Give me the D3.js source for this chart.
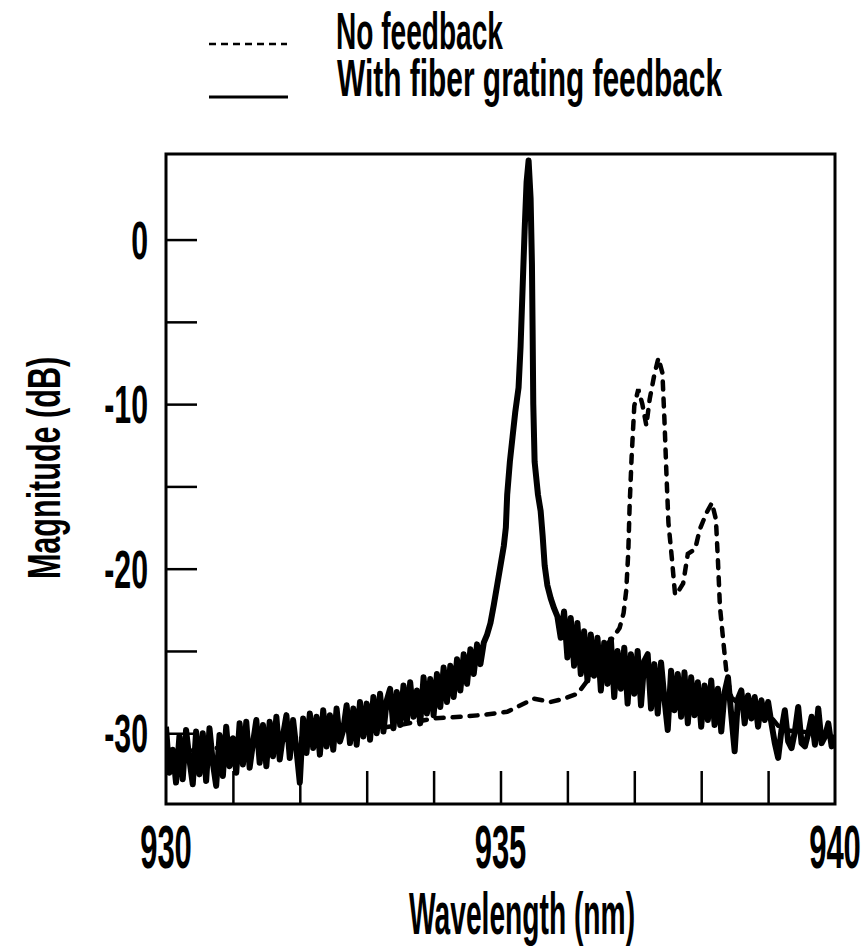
<!DOCTYPE html>
<html>
<head>
<meta charset="utf-8">
<script src="https://cdn.jsdelivr.net/npm/d3@7/dist/d3.min.js"></script>
<style>
  body { margin: 0; background: #fff; }
  text { font-family: "Liberation Sans", Arial, sans-serif; font-weight: bold; fill: #000; }
</style>
</head>
<body>
<svg id="chart" width="867" height="950"></svg>
<script>
// series labels
var seriesNames = ['No feedback', 'With fiber grating feedback'];

// tick values
var xTicks = [931, 932, 933, 934, 935, 936, 937, 938, 939];
var xLabels = [930, 935, 940];
var yTicks = [0, -5, -10, -15, -20, -25, -30];
var yLabels = [0, -10, -20, -30];

// no feedback (dashed) - wavelength nm, magnitude dB
var noFbWl = [930.0, 931.0, 932.0, 933.0, 933.5, 934.0, 934.4, 934.7, 935.1, 935.5, 935.75, 935.95, 936.15, 936.3,
    936.45, 936.57, 936.68, 936.78, 936.84, 936.88, 936.91, 936.93, 936.96, 937.0, 937.06, 937.12, 937.18, 937.23,
    937.3, 937.36, 937.42, 937.45, 937.48, 937.51, 937.56, 937.61, 937.67, 937.73, 937.8, 937.91, 937.98, 938.08,
    938.16, 938.22, 938.25, 938.28, 938.33, 938.38, 938.45, 938.6, 939.0, 939.2, 939.5, 940.0];
var noFbMag = [-31.2, -30.8, -30.3, -29.8, -29.5, -29.1, -29.0, -28.9, -28.7, -27.9, -28.1, -27.9, -27.6, -26.8,
    -25.7, -24.7, -24.2, -23.6, -22.7, -21.3, -19.0, -16.2, -13.2, -10.1, -9.1, -10.0, -11.3, -9.7,
    -8.2, -7.2, -8.1, -10.9, -14.2, -17.2, -19.3, -21.6, -21.3, -20.9, -19.1, -18.8, -17.6, -16.6,
    -16.0, -17.0, -19.5, -22.3, -24.4, -26.4, -27.8, -28.4, -28.8, -29.8, -29.9, -30.1];

// with fiber grating feedback (solid)
var fbWl = [930.00, 930.05, 930.10, 930.15, 930.20, 930.25, 930.30, 930.35, 930.40, 930.45,
    930.50, 930.55, 930.60, 930.65, 930.70, 930.75, 930.80, 930.85, 930.90, 930.95,
    931.00, 931.05, 931.10, 931.15, 931.20, 931.25, 931.30, 931.35, 931.40, 931.45,
    931.50, 931.55, 931.60, 931.65, 931.70, 931.75, 931.80, 931.85, 931.90, 931.95,
    932.00, 932.05, 932.10, 932.15, 932.20, 932.25, 932.30, 932.35, 932.40, 932.45,
    932.50, 932.55, 932.60, 932.65, 932.70, 932.75, 932.80, 932.85, 932.90, 932.95,
    933.00, 933.05, 933.10, 933.15, 933.20, 933.25, 933.30, 933.35, 933.40, 933.45,
    933.50, 933.55, 933.60, 933.65, 933.70, 933.75, 933.80, 933.85, 933.90, 933.95,
    934.00, 934.05, 934.10, 934.15, 934.20, 934.25, 934.30, 934.35, 934.40, 934.45,
    934.50, 934.55, 934.60, 934.65, 934.70, 934.75,
    934.80, 934.85, 934.90, 934.95, 935.00, 935.05, 935.08, 935.10, 935.14, 935.18,
    935.22, 935.27, 935.30, 935.33, 935.36, 935.39, 935.42, 935.45, 935.47, 935.48,
    935.49, 935.51, 935.56, 935.60, 935.63, 935.66, 935.70, 935.75, 935.80, 935.85,
    935.90, 935.95, 936.00, 936.05, 936.10, 936.15, 936.20, 936.25, 936.30, 936.35,
    936.40, 936.45, 936.50, 936.55, 936.60, 936.65, 936.70, 936.75, 936.80, 936.85,
    936.90, 936.95, 937.00, 937.05, 937.10, 937.15, 937.20, 937.25, 937.30, 937.35,
    937.40, 937.45, 937.50, 937.55, 937.60, 937.65, 937.70, 937.75, 937.80, 937.85,
    937.90, 937.95, 938.00, 938.05, 938.10, 938.15, 938.20, 938.25, 938.30, 938.35,
    938.40, 938.45, 938.50, 938.55, 938.60, 938.65, 938.70, 938.75, 938.80, 938.85,
    938.90, 938.95, 939.00, 939.05, 939.10, 939.15, 939.20, 939.25, 939.30, 939.35,
    939.40, 939.45, 939.50, 939.55, 939.60, 939.65, 939.70, 939.75, 939.80, 939.85,
    939.90, 939.95, 940.00];
var fbMag = [-29.6, -32.4, -31.0, -33.0, -30.2, -32.8, -29.8, -31.6, -33.1, -29.9,
    -32.5, -30.0, -32.9, -29.7, -31.8, -33.2, -30.1, -32.6, -29.6, -32.0,
    -30.3, -32.4, -29.4, -31.9, -29.3, -32.1, -30.6, -29.2, -31.8, -29.5,
    -32.0, -29.3, -31.4, -29.0, -31.6, -30.1, -28.9, -31.5, -29.2, -31.0,
    -33.0, -29.1, -31.2, -28.8, -30.9, -29.0, -31.3, -28.6, -30.8, -28.9,
    -31.0, -28.5, -30.5, -29.8, -28.3, -30.6, -28.5, -30.7, -28.1, -30.2,
    -28.2, -30.4, -27.8, -30.0, -27.6, -29.9, -28.0, -27.3, -29.7, -27.5,
    -29.5, -27.1, -29.3, -26.9, -29.0, -27.4, -29.4, -26.6, -28.8, -26.7,
    -28.9, -26.4, -28.4, -26.0, -28.1, -25.9, -27.8, -25.5, -27.4, -25.2,
    -27.0, -24.9, -26.4, -24.6, -25.8, -24.5,
    -24.0, -23.3, -22.2, -21.0, -19.8, -18.6, -17.5, -15.5, -13.5, -12.0,
    -10.5, -9.0, -6.5, -3.0, 0.5, 3.5, 4.8, 2.5, -1.5, -5.5,
    -10.0, -13.5, -15.5, -16.5, -18.0, -19.8, -21.0, -21.8, -22.4, -22.9,
    -24.2, -22.6, -25.4, -23.0, -25.9, -23.3, -26.4, -23.8, -26.8, -24.0,
    -26.5, -24.2, -27.4, -24.5, -27.0, -24.3, -27.8, -25.0, -27.3, -24.8,
    -28.2, -25.2, -27.6, -25.0, -28.3, -25.6, -25.2, -28.5, -25.8, -28.8,
    -25.7, -27.9, -29.8, -26.2, -28.6, -26.4, -29.0, -26.3, -29.4, -26.6,
    -28.9, -26.9, -29.6, -27.1, -29.2, -26.8, -29.5, -27.3, -29.9, -27.5,
    -26.6, -28.9, -31.1, -27.9, -27.4, -29.4, -27.7, -29.1, -27.8, -29.6,
    -28.0, -29.2, -28.1, -29.4, -30.6, -31.5, -29.8, -28.6, -30.5, -30.9,
    -29.9, -28.4, -30.6, -30.8, -30.0, -29.0, -30.7, -28.5, -30.6, -30.2,
    -29.4, -30.8, -30.1];

var svg = d3.select('#chart');
var plotL = 166, plotR = 835, plotT = 154, plotB = 804;

var x = d3.scaleLinear().domain([930, 940]).range([plotL, plotR]);
var y = d3.scaleLinear().domain([-34.3, 5.2]).range([plotB, plotT]);

function label(txt, px, py, anchor, size, sx, rot) {
    var t = 'translate(' + px + ',' + py + ')' + (rot ? ' rotate(' + rot + ')' : '') + ' scale(' + sx + ',1)';
    return svg.append('text')
        .attr('transform', t)
        .attr('text-anchor', anchor)
        .style('font-size', size + 'px')
        .text(txt);
}

// curves, clipped to the frame
svg.append('clipPath').attr('id', 'clip')
    .append('rect').attr('x', plotL).attr('y', plotT).attr('width', plotR - plotL).attr('height', plotB - plotT);

var line = d3.line()
    .x(function(d) { return x(d[0]); })
    .y(function(d) { return y(d[1]); });

var fbData = fbWl.map(function(w, i) { return [w, fbMag[i]]; });
var noFbData = noFbWl.map(function(w, i) { return [w, noFbMag[i]]; });

svg.append('path')
    .datum(fbData)
    .attr('clip-path', 'url(#clip)')
    .attr('fill', 'none')
    .attr('stroke', '#000')
    .attr('stroke-width', 6)
    .attr('stroke-linejoin', 'round')
    .attr('d', line);

svg.append('path')
    .datum(noFbData)
    .attr('clip-path', 'url(#clip)')
    .attr('fill', 'none')
    .attr('stroke', '#000')
    .attr('stroke-width', 4.5)
    .attr('stroke-linecap', 'round')
    .attr('stroke-dasharray', '8,9')
    .attr('d', line);

// frame
svg.append('rect')
    .attr('x', plotL).attr('y', plotT)
    .attr('width', plotR - plotL).attr('height', plotB - plotT)
    .attr('fill', 'none')
    .attr('stroke', '#000')
    .attr('stroke-width', 3);

// ticks: inward from left and bottom
var yAxis = d3.axisLeft(y).tickValues(yTicks).tickSize(-31).tickFormat('');
var yG = svg.append('g').attr('transform', 'translate(' + plotL + ',0)').call(yAxis);
yG.select('.domain').remove();
yG.selectAll('line').attr('stroke', '#000').attr('stroke-width', 2.5);

var xAxis = d3.axisBottom(x).tickValues(xTicks).tickSize(-33).tickFormat('');
var xG = svg.append('g').attr('transform', 'translate(0,' + plotB + ')').call(xAxis);
xG.select('.domain').remove();
xG.selectAll('line').attr('stroke', '#000').attr('stroke-width', 2.5);

// tick labels
yLabels.forEach(function(v) {
    label(v, 148, y(v) + 19, 'end', 54, 0.56);
});
xLabels.forEach(function(v) {
    label(v, x(v), 868, 'middle', 62, 0.5);
});

// axis titles
label('Wavelength (nm)', 522, 934, 'middle', 60, 0.47);
label('Magnitude (dB)', 60, 468, 'middle', 47, 0.65, -90);

// legend
svg.append('line')
    .attr('x1', 209).attr('x2', 287).attr('y1', 44).attr('y2', 44)
    .attr('stroke', '#000').attr('stroke-width', 2.5)
    .attr('stroke-dasharray', '7,5');
svg.append('line')
    .attr('x1', 209).attr('x2', 288).attr('y1', 97).attr('y2', 97)
    .attr('stroke', '#000').attr('stroke-width', 3);
label(seriesNames[0], 336, 49, 'start', 52, 0.54);
label(seriesNames[1], 337, 96, 'start', 52, 0.575);
</script>
</body>
</html>
